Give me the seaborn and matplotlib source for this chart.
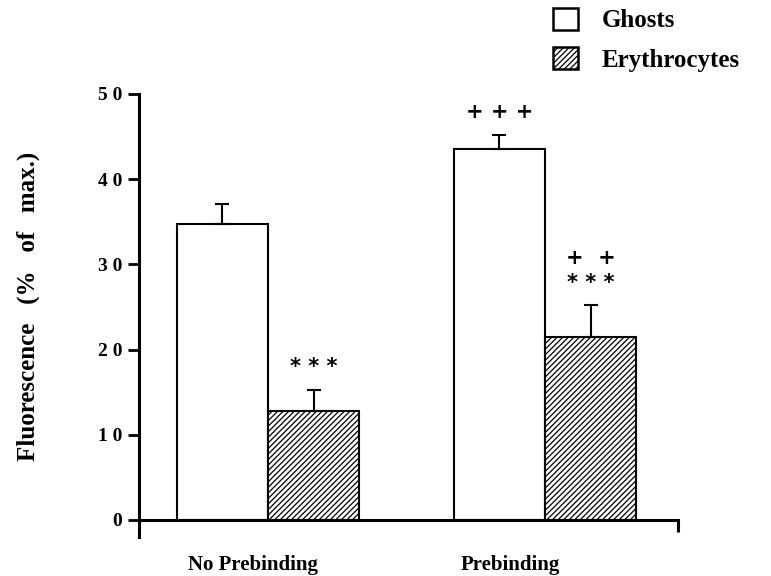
import matplotlib
matplotlib.use("Agg")
import matplotlib.pyplot as plt
import matplotlib.patches as mpatches
import matplotlib.transforms as mtrans
import seaborn as sns
import pandas as pd
import numpy as np

# ---- data ----
conditions = ["No Prebinding", "Prebinding"]
cell_types = ["Ghosts", "Erythrocytes"]
ghosts_mean = [34.7, 43.5]
ghosts_sem = [2.4, 1.7]
ery_mean = [12.8, 21.5]
ery_sem = [2.5, 3.7]
yticks = [0, 10, 20, 30, 40, 50]
ytick_labels = ["0", "1 0", "2 0", "3 0", "4 0", "5 0"]
# significance labels: (cell type, condition, lines from bottom to top)
annotations = [
    ("Erythrocytes", "No Prebinding", ["* * *"]),
    ("Ghosts", "Prebinding", ["+ + +"]),
    ("Erythrocytes", "Prebinding", ["* * *", "+  +"]),
]

df = pd.DataFrame({
    "condition": conditions * 2,
    "cell": [cell_types[0]] * 2 + [cell_types[1]] * 2,
    "value": ghosts_mean + ery_mean,
    "sem": ghosts_sem + ery_sem,
})

sns.set_style("ticks")
plt.rcParams["font.family"] = ["Liberation Serif", "DejaVu Serif"]
plt.rcParams["font.weight"] = "bold"
plt.rcParams["hatch.linewidth"] = 0.9
for k in ["text.color", "axes.labelcolor", "xtick.color", "ytick.color", "axes.edgecolor"]:
    plt.rcParams[k] = "black"

fig = plt.figure(figsize=(7.71, 5.76), dpi=100)
ax = fig.add_axes([139 / 771, 1 - 537 / 576, (678 - 139) / 771, (537 - 94) / 576])

sns.barplot(data=df, x="condition", y="value", hue="cell", order=conditions,
            hue_order=cell_types, palette=["white", "white"], edgecolor="black",
            linewidth=1.5, width=0.66, legend=False, ax=ax, errorbar=None,
            saturation=1)

hatches = ["", "//////"]
centers = {}
for cont, cell, hatch in zip(ax.containers, cell_types, hatches):
    sub = df[df["cell"] == cell].set_index("condition").loc[conditions]
    xs = []
    for bar in cont:
        bar.set_hatch(hatch)
        bar.set_zorder(2)
        xs.append(bar.get_x() + bar.get_width() / 2)
    xs = np.array(xs)
    vals = sub["value"].to_numpy()
    errs = sub["sem"].to_numpy()
    ax.errorbar(xs, vals, yerr=[np.zeros_like(errs), errs], fmt="none",
                ecolor="black", elinewidth=1.5, capsize=5, capthick=1.5, zorder=3)
    for c, x, v, e in zip(conditions, xs, vals, errs):
        centers[(cell, c)] = (x, v + e)

for cell, cond, lines in annotations:
    x, top = centers[(cell, cond)]
    for i, txt in enumerate(lines):
        ax.annotate(txt, (x, top), xytext=(0, 9 + 18 * i), textcoords="offset points",
                    ha="center", va="bottom", fontsize=15, fontweight="bold",
                    family=["DejaVu Sans"])

ax.set_ylim(-2, 50)
ax.set_xlim(-0.466, 1.48)
ax.spines["top"].set_visible(False)
ax.spines["right"].set_visible(False)
ax.spines["bottom"].set_position(("data", 0))
ax.spines["left"].set_linewidth(2.2)
ax.spines["bottom"].set_linewidth(2.2)
ax.set_yticks(yticks)
ax.set_yticklabels(ytick_labels, fontsize=14, fontweight="bold")
ax.tick_params(axis="y", direction="out", length=8, width=2, pad=4)
ax.set_xticks(range(len(conditions)))
ax.set_xticklabels(conditions, fontsize=15, fontweight="bold")
ax.tick_params(axis="x", length=0, pad=25)
offsets = [-15, -35]
for lab, dx in zip(ax.get_xticklabels(), offsets):
    lab.set_transform(lab.get_transform() + mtrans.ScaledTranslation(dx / 100, 0, fig.dpi_scale_trans))
# end tick on right of x axis
xr = ax.get_xlim()[1]
ax.plot([xr, xr], [0, -1.4], color="black", lw=2.2, clip_on=False, solid_capstyle="butt")
ax.set_xlabel("")
ax.set_ylabel("Fluorescence   (%   of   max.)", fontsize=18, fontweight="bold")
ax.yaxis.set_label_coords(-0.183, 0.52)

handles = [mpatches.Patch(facecolor="white", edgecolor="black", linewidth=1.8, hatch=h)
           for h in ["", "//////"]]
leg = fig.legend(handles, cell_types, loc="upper left", bbox_to_anchor=(538 / 771, 1.012),
                 frameon=False, fontsize=18, handlelength=1.0, handleheight=0.95,
                 handletextpad=0.95, labelspacing=0.6, borderaxespad=0.2)
for t in leg.get_texts():
    t.set_fontweight("bold")

fig.savefig("out.png", dpi=100)
